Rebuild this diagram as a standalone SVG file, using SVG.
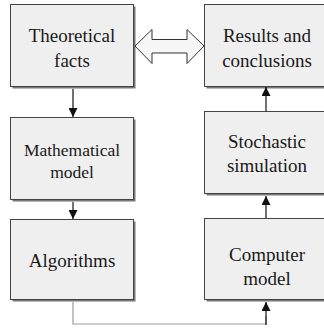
<svg xmlns="http://www.w3.org/2000/svg" width="324" height="329" viewBox="0 0 324 329">
<defs>
<style>
.box{fill:#efefef;stroke:#444;stroke-width:1}
.sh{fill:#777}
.t{font-family:"Liberation Serif","Times New Roman",serif;font-size:19px;fill:#1a1a1a;text-anchor:middle}
.s{font-size:17.5px}
.c{fill:none;stroke:#111;stroke-width:1.2}
.g{fill:none;stroke:#999;stroke-width:1.2}
</style>
<marker id="ah" viewBox="0 0 10 10" refX="10" refY="5" markerWidth="10" markerHeight="9" markerUnits="userSpaceOnUse" orient="auto">
<path d="M0,0 L10,5 L0,10 Z" fill="#111"/>
</marker>
</defs>
<rect width="324" height="329" fill="#fff"/>
<g id="theoretical">
<rect class="sh" x="12.5" y="6.5" width="123" height="82"/>
<rect class="box" x="10.5" y="4.5" width="123" height="82"/>
<text class="t" x="72" y="42">Theoretical</text>
<text class="t" x="72" y="67">facts</text>
</g>
<g id="results">
<rect class="sh" x="206.5" y="6.5" width="123" height="82"/>
<rect class="box" x="204.5" y="4.5" width="123" height="82"/>
<text class="t" x="267" y="42">Results and</text>
<text class="t" x="267" y="67">conclusions</text>
</g>
<g id="mathematical">
<rect class="sh" x="12.5" y="119.5" width="123" height="82"/>
<rect class="box" x="10.5" y="117.5" width="123" height="82"/>
<text class="t s" x="72" y="156">Mathematical</text>
<text class="t s" x="72" y="178">model</text>
</g>
<g id="stochastic">
<rect class="sh" x="206.5" y="113.5" width="123" height="82"/>
<rect class="box" x="204.5" y="111.5" width="123" height="82"/>
<text class="t" x="267" y="148">Stochastic</text>
<text class="t" x="267" y="172">simulation</text>
</g>
<g id="algorithms">
<rect class="sh" x="12.5" y="221.5" width="123" height="80"/>
<rect class="box" x="10.5" y="219.5" width="123" height="80"/>
<text class="t" x="72" y="267">Algorithms</text>
</g>
<g id="computer">
<rect class="sh" x="206.5" y="220.5" width="123" height="81"/>
<rect class="box" x="204.5" y="218.5" width="123" height="81"/>
<text class="t" x="267" y="261">Computer</text>
<text class="t" x="267" y="285">model</text>
</g>
<g id="connectors">
<polygon points="135,46 152,29.5 152,39.5 187,39.5 187,29.5 204,46 187,63.5 187,53 152,53 152,63.5" fill="#f7f7f7" stroke="#333" stroke-width="1"/>
<line class="c" x1="73" y1="89" x2="73" y2="117" marker-end="url(#ah)"/>
<line class="c" x1="73" y1="202" x2="73" y2="219" marker-end="url(#ah)"/>
<line class="c" x1="266" y1="111" x2="266" y2="87" marker-end="url(#ah)"/>
<line class="c" x1="266" y1="218" x2="266" y2="196" marker-end="url(#ah)"/>
<polyline class="g" points="73,302 73,324 266,324 266,316"/>
<line class="c" x1="266" y1="325" x2="266" y2="302" marker-end="url(#ah)"/>
</g>
</svg>
